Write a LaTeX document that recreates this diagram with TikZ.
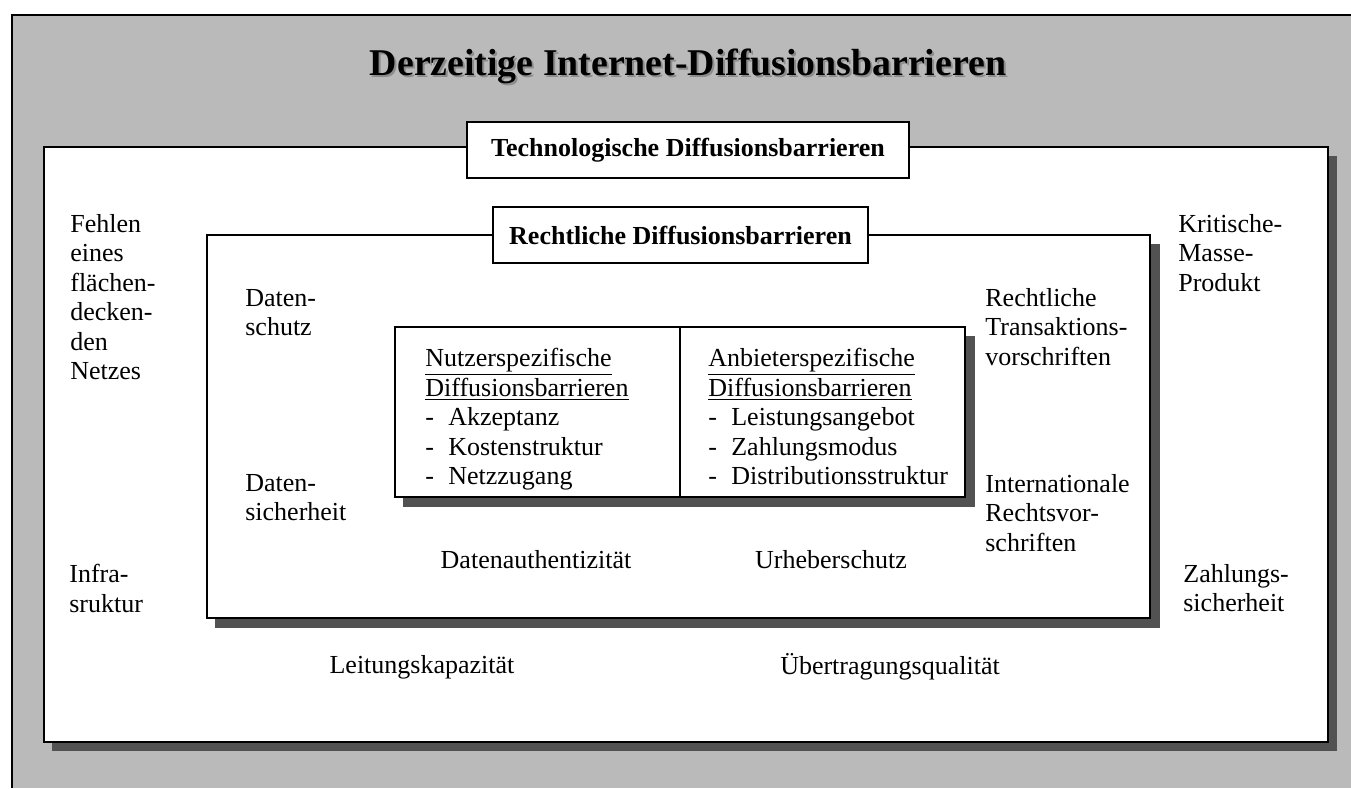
\documentclass[tikz,border=0pt]{standalone}
\usepackage{fontspec}
\setmainfont{Liberation Serif}
\tikzset{
  barrier/.style={draw, line width=1.1pt, fill=white},
  barrier shadow/.style={fill=black!68, draw=none},
  head/.style={draw, line width=1.1pt, fill=white, inner sep=0pt,
    font=\bfseries\fontsize{14.8}{16.8}\selectfont},
  item/.style={font=\fontsize{14.8}{16.8}\selectfont, align=left,
    inner sep=0pt, anchor=north west},
  citem/.style={font=\fontsize{14.8}{16.8}\selectfont, inner sep=0pt},
  headline/.style={font=\bfseries\fontsize{21.5}{24}\selectfont, inner sep=0pt}
}
\newcommand{\dash}[1]{-\hspace{0.55em}#1}

\begin{document}
\begin{tikzpicture}[x=0.02cm, y=-0.02cm]
\useasboundingbox (0,0) rectangle (1351,788);
% grey frame
\fill[black!27] (12,15) rectangle (1351,788);
\draw[line width=1pt] (1351,15) -- (12,15) -- (12,788);
% title
\node[headline, text=black!45] at (690,68) {Derzeitige Internet-Diffusionsbarrieren};
\node[headline] (title) at (688,66) {Derzeitige Internet-Diffusionsbarrieren};
% technological barriers
\fill[barrier shadow] (52,156) rectangle (1337,751);
\draw[barrier] (44,147) rectangle (1328,742);
\node[head, minimum width=8.84cm, minimum height=1.12cm] (tech) at (688,150)
  {Technologische Diffusionsbarrieren};
% legal barriers
\fill[barrier shadow] (215,244) rectangle (1160,628);
\draw[barrier] (207,235) rectangle (1150,618);
\node[head, minimum width=7.5cm, minimum height=1.12cm] (law) at (680.5,235)
  {Rechtliche Diffusionsbarrieren};
% user and supplier barriers
\fill[barrier shadow] (403,336) rectangle (975,507);
\draw[barrier] (395,327) rectangle (965,497);
\coordinate (split top) at (680,327);
\coordinate (split bottom) at (680,497);
\draw[line width=1.1pt] (split top) -- (split bottom);
\node[item] (user) at (425,348) {\underline{Nutzerspezifische}\\
  \underline{Diffusionsbarrieren}\\ \dash{Akzeptanz}\\ \dash{Kostenstruktur}\\
  \dash{Netzzugang}};
\node[item] (supplier) at (708,348) {\underline{Anbieterspezifische}\\
  \underline{Diffusionsbarrieren}\\ \dash{Leistungsangebot}\\ \dash{Zahlungsmodus}\\
  \dash{Distributionsstruktur}};
% legal annotations
\node[item] (privacy) at (245,289) {Daten-\\schutz};
\node[item] (security) at (245,474) {Daten-\\sicherheit};
\node[item] (transaction) at (985,288) {Rechtliche\\Transaktions-\\vorschriften};
\node[item] (intlaw) at (985,474) {Internationale\\Rechtsvor-\\schriften};
\node[citem] (authentic) at (536,560) {Datenauthentizität};
\node[citem] (copyright) at (831,560) {Urheberschutz};
% technological annotations
\node[item] (network) at (70,214) {Fehlen\\eines\\flächen-\\decken-\\den\\Netzes};
\node[item] (infra) at (69,564) {Infra-\\sruktur};
\node[item] (mass) at (1178,214) {Kritische-\\Masse-\\Produkt};
\node[item] (payment) at (1183,564) {Zahlungs-\\sicherheit};
\node[citem] (capacity) at (422,667) {Leitungskapazität};
\node[citem] (quality) at (890,667) {Übertragungsqualität};
\end{tikzpicture}
\end{document}
